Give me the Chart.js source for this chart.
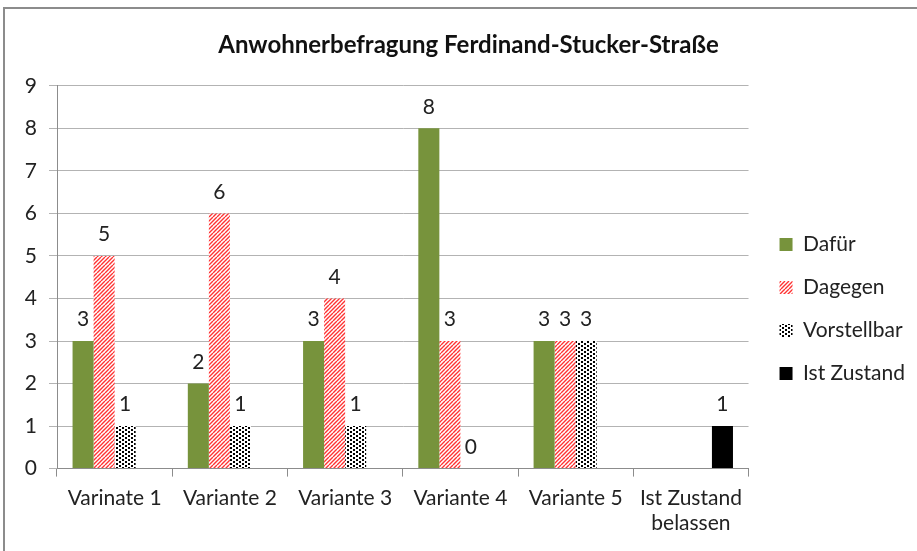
<!DOCTYPE html>
<html>
<head>
<meta charset="utf-8">
<script src="https://cdn.jsdelivr.net/npm/chart.js@4/dist/chart.umd.min.js"></script>
<style>
  html, body { margin: 0; padding: 0; background: #fff; overflow: hidden; }
  #box { position: absolute; left: 3px; top: 7px; width: 940px; height: 580px; border: 2px solid #8c8c8c; background: #fff; }
</style>
</head>
<body>
<div id="box"><canvas id="chart"></canvas></div>
<script>
const categories = ['Varinate 1', 'Variante 2', 'Variante 3', 'Variante 4', 'Variante 5', ['Ist Zustand', 'belassen']];
const dafuer = [3, 2, 3, 8, 3, null];
const dagegen = [5, 6, 4, 3, 3, null];
const vorstellbar = [1, 1, 1, 0, 3, null];
const istZustand = [null, null, null, null, null, 1];
const yTicks = [0, 1, 2, 3, 4, 5, 6, 7, 8, 9];

const FONT = 'Lato, "Open Sans", sans-serif';

// red upward diagonal stripes on white
function stripes() {
  const c = document.createElement('canvas');
  c.width = 8; c.height = 8;
  const g = c.getContext('2d');
  g.fillStyle = 'rgb(255,255,255)';
  g.fillRect(0, 0, 8, 8);
  g.strokeStyle = 'rgb(255,50,50)';
  g.lineWidth = 1.4;
  g.beginPath();
  for (let k = -8; k <= 16; k += 4) {
    g.moveTo(k, 8);
    g.lineTo(k + 8, 0);
  }
  g.stroke();
  return g.createPattern(c, 'repeat');
}

// confetti-ish dots
function dots() {
  const c = document.createElement('canvas');
  c.width = 6; c.height = 4;
  const g = c.getContext('2d');
  g.fillStyle = '#fff';
  g.fillRect(0, 0, 6, 4);
  g.fillStyle = '#000';
  g.fillRect(0, 0, 2, 2);
  g.fillRect(3, 2, 2, 2);
  return g.createPattern(c, 'repeat');
}

const valueLabels = {
  id: 'valueLabels',
  afterDatasetsDraw(chart) {
    const ctx = chart.ctx;
    ctx.save();
    ctx.font = '21px ' + FONT;
    ctx.fillStyle = '#222';
    ctx.textAlign = 'center';
    ctx.textBaseline = 'bottom';
    chart.data.datasets.forEach((ds, i) => {
      const meta = chart.getDatasetMeta(i);
      meta.data.forEach((bar, j) => {
        const v = ds.data[j];
        if (v === null) return;
        ctx.fillText(String(v), bar.x, bar.y - 11);
      });
    });
    ctx.restore();
  }
};

// the title sits centred on the whole frame, the legend a bit further right
const nudge = {
  id: 'nudge',
  afterLayout(chart) {
    chart.titleBlock.left += 13;
    chart.titleBlock.right += 13;
    chart.legend.left += 9;
    chart.legend.right += 9;
  }
};

const ctx = document.getElementById('chart').getContext('2d');
const chart = new Chart(ctx, {
  type: 'bar',
  data: {
    labels: categories,
    datasets: [
      { label: 'Dafür', data: dafuer, backgroundColor: '#77933c' },
      { label: 'Dagegen', data: dagegen, backgroundColor: stripes() },
      { label: 'Vorstellbar', data: vorstellbar, backgroundColor: dots() },
      { label: 'Ist Zustand', data: istZustand, backgroundColor: '#000' }
    ]
  },
  options: {
    responsive: true,
    maintainAspectRatio: false,
    animation: false,
    categoryPercentage: 0.73,
    barPercentage: 1.0,
    layout: { padding: { left: 0, right: 39, top: 0, bottom: 44 } },
    plugins: {
      tooltip: { enabled: false },
      title: {
        display: true,
        text: 'Anwohnerbefragung Ferdinand-Stucker-Straße',
        color: '#111',
        font: { family: FONT, size: 24, weight: 'bold' },
        padding: { top: 22, bottom: 26 }
      },
      legend: {
        position: 'right',
        title: { display: true, text: ' ', font: { size: 10 }, padding: { top: 26, bottom: 26 } },
        labels: {
          color: '#222',
          font: { family: FONT, size: 21 },
          boxWidth: 13,
          boxHeight: 13,
          padding: 22
        }
      }
    },
    scales: {
      x: {
        grid: { display: true, drawOnChartArea: false, offset: true, color: '#8c8c8c', tickLength: 8 },
        border: { color: '#8c8c8c' },
        ticks: { color: '#222', font: { family: FONT, size: 21 }, padding: 9, maxRotation: 0 }
      },
      y: {
        min: 0,
        max: 9,
        afterFit(scale) { scale.width = 52; },
        afterBuildTicks(scale) { scale.ticks = yTicks.map(v => ({ value: v })); },
        grid: { color: '#b3b3b3', tickLength: 8 },
        border: { color: '#8c8c8c' },
        ticks: { color: '#222', font: { family: FONT, size: 21 }, padding: 12 }
      }
    }
  },
  plugins: [valueLabels, nudge]
});
</script>
</body>
</html>
